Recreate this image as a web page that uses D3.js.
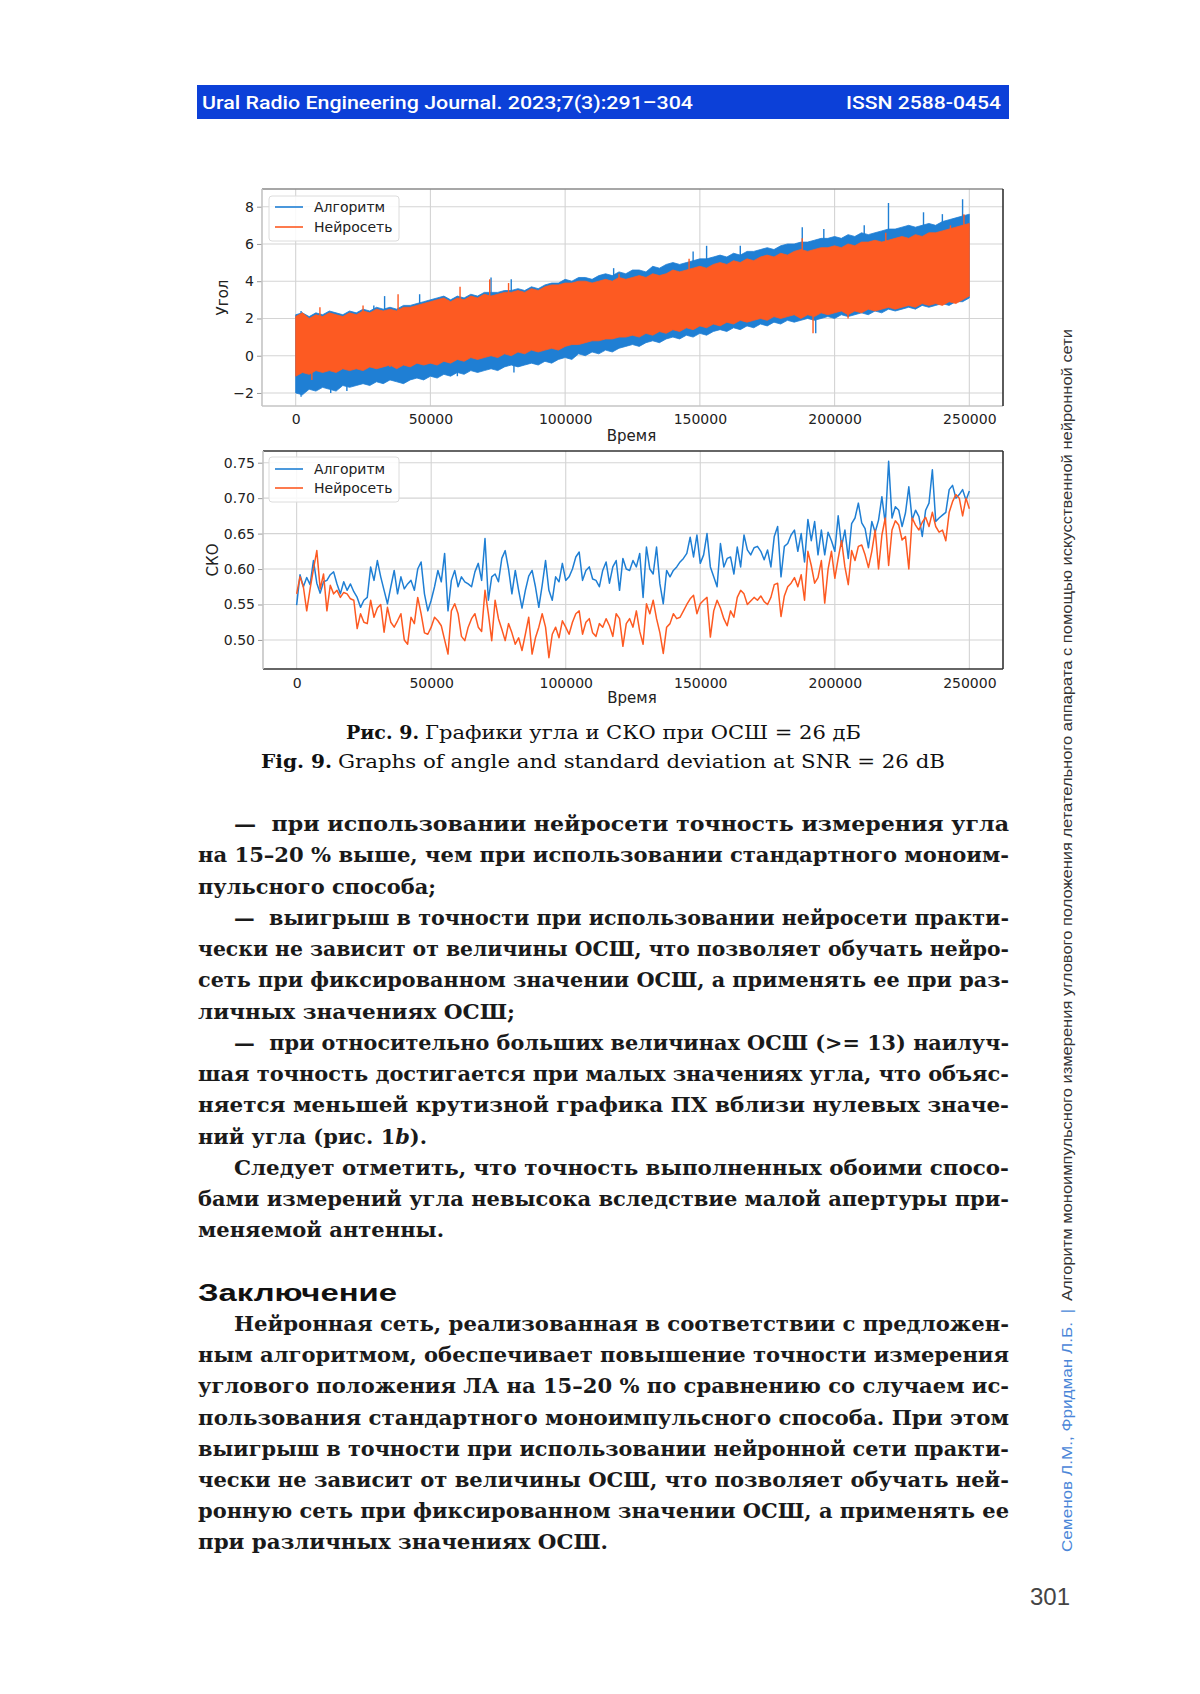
<!DOCTYPE html>
<html><head><meta charset="utf-8">
<script src="https://cdnjs.cloudflare.com/ajax/libs/d3/7.8.5/d3.min.js"></script>
<style>html,body{margin:0;padding:0;background:#fff;} svg{display:block;} text{white-space:pre;}</style>
</head><body><svg id="page" width="1200" height="1694"></svg>
<script>
// ---------------- DATA ----------------
const seriesNames = ["Алгоритм", "Нейросеть"];
const timeTicks = [0, 50000, 100000, 150000, 200000, 250000];
const angleTicks = [-2, 0, 2, 4, 6, 8];
const skoTicks = [0.50, 0.55, 0.60, 0.65, 0.70, 0.75];
const angleStep = 2500;   // sampling of the angle envelopes
const skoStep = 1250;     // sampling of the SKO curves

// Angle chart: envelopes of the dense noisy signals (upper / lower)
const algoUpper = [
 2.2,2.3,2.1,2.3,2.2,2.4,2.3,2.2,2.4,2.3,
 2.5,2.4,2.6,2.5,2.6,2.5,2.7,2.7,2.8,2.9,
 3.0,3.1,3.2,3.0,3.2,3.1,3.3,3.2,3.4,3.4,
 3.4,3.5,3.5,3.6,3.5,3.7,3.6,3.8,3.9,3.9,
 4.1,4.0,4.2,4.2,4.1,4.3,4.4,4.3,4.5,4.4,
 4.6,4.6,4.5,4.8,4.7,4.9,5.0,4.9,5.0,5.1,
 5.2,5.2,5.3,5.4,5.3,5.5,5.4,5.6,5.6,5.7,
 5.8,5.7,5.9,6.0,6.0,6.1,6.1,6.2,6.3,6.3,
 6.4,6.3,6.5,6.4,6.6,6.5,6.6,6.7,6.8,6.8,
 6.9,7.0,6.9,7.0,7.1,7.0,7.2,7.3,7.4,7.5,
 7.6];
const algoLower = [
 -2.0,-2.1,-1.8,-1.9,-1.7,-1.8,-1.9,-1.6,-1.7,-1.6,
 -1.5,-1.6,-1.4,-1.5,-1.3,-1.4,-1.5,-1.3,-1.2,-1.3,
 -1.1,-1.2,-1.0,-1.1,-0.9,-1.0,-0.8,-0.9,-0.8,-0.7,
 -0.8,-0.6,-0.5,-0.6,-0.5,-0.4,-0.5,-0.3,-0.4,-0.2,
 -0.1,-0.2,0.1,0.0,0.2,0.1,0.3,0.2,0.4,0.5,
 0.6,0.5,0.7,0.8,0.7,0.9,1.0,0.9,1.1,1.0,
 1.2,1.1,1.3,1.4,1.3,1.5,1.4,1.6,1.5,1.7,
 1.6,1.8,1.7,1.9,1.8,1.9,2.0,1.9,2.0,2.1,
 2.0,2.2,2.1,2.2,2.3,2.2,2.4,2.3,2.5,2.4,
 2.5,2.6,2.5,2.7,2.6,2.7,2.8,2.7,2.9,2.9,
 3.1];
const neuroUpper = [
 2.1,2.3,2.0,2.2,2.1,2.3,2.2,2.1,2.3,2.2,
 2.4,2.3,2.5,2.4,2.5,2.4,2.6,2.6,2.7,2.8,
 2.9,3.0,3.1,2.9,3.1,3.0,3.2,3.1,3.3,3.2,
 3.3,3.4,3.4,3.5,3.4,3.6,3.5,3.7,3.8,3.8,
 3.9,3.9,4.0,4.0,3.9,4.0,4.1,4.0,4.2,4.1,
 4.2,4.3,4.2,4.4,4.3,4.4,4.6,4.5,4.6,4.7,
 4.8,4.7,4.9,5.0,4.9,5.1,5.0,5.2,5.1,5.3,
 5.4,5.3,5.5,5.4,5.6,5.7,5.6,5.7,5.8,5.8,
 5.9,5.8,6.0,5.9,6.1,6.1,6.2,6.1,6.2,6.3,
 6.4,6.3,6.5,6.4,6.6,6.6,6.7,6.8,6.9,7.0,
 7.1];
const neuroLower = [
 -1.1,-0.9,-1.0,-0.8,-0.9,-0.8,-0.9,-0.7,-0.8,-0.7,
 -0.8,-0.6,-0.7,-0.6,-0.5,-0.7,-0.5,-0.6,-0.4,-0.5,
 -0.4,-0.5,-0.3,-0.4,-0.2,-0.3,-0.1,-0.2,-0.1,0.0,
 -0.1,0.1,0.0,0.2,0.1,0.3,0.2,0.3,0.4,0.3,
 0.5,0.6,0.6,0.7,0.8,0.8,0.9,0.9,1.0,1.0,
 1.1,1.0,1.2,1.1,1.3,1.2,1.4,1.3,1.5,1.4,
 1.6,1.5,1.7,1.6,1.8,1.7,1.9,1.8,1.9,2.0,
 1.9,2.1,2.0,2.1,2.2,2.0,2.2,2.1,2.3,2.2,
 2.3,2.4,2.2,2.4,2.3,2.5,2.4,2.5,2.6,2.5,
 2.6,2.7,2.6,2.8,2.7,2.8,2.7,2.9,2.8,3.0,
 3.2];
// Isolated thin spikes sticking out of the bands
const algoUpSpikeT = [2000, 29000, 33000, 46000, 72500, 80000, 118000, 147500, 152500, 165000, 188000, 196000, 211000, 220000, 233000, 240000, 247500];
const algoUpSpikeV = [2.4, 2.7, 3.2, 3.3, 4.2, 4.1, 4.7, 5.6, 5.9, 5.9, 6.9, 6.8, 7.0, 8.2, 7.7, 7.6, 8.4];
const neuroUpSpikeT = [9000, 25000, 38000, 61000, 72000, 79000, 120000, 146000, 188000, 219000, 243000, 248000];
const neuroUpSpikeV = [2.6, 2.7, 3.3, 3.7, 4.1, 3.9, 4.4, 5.2, 6.3, 6.6, 7.0, 7.6];
const algoLoSpikeT = [2000, 13000, 19000, 60000, 81000, 92500, 113000, 193000];
const algoLoSpikeV = [-2.2, -2.0, -1.9, -1.1, -0.9, -0.3, 0.2, 1.2];
const neuroLoSpikeT = [6000, 35000, 192000, 205000];
const neuroLoSpikeV = [-1.3, -0.6, 1.2, 2.0];

// SKO chart
const algoSko = [
 0.549,0.592,0.575,0.588,0.578,0.612,0.580,0.566,0.582,0.584,
 0.592,0.596,0.579,0.565,0.582,0.570,0.579,0.568,0.560,0.546,
 0.556,0.560,0.603,0.584,0.612,0.589,0.570,0.551,0.575,0.598,
 0.565,0.589,0.572,0.579,0.584,0.570,0.600,0.610,0.565,0.541,
 0.556,0.575,0.598,0.582,0.622,0.541,0.584,0.598,0.575,0.589,
 0.582,0.579,0.575,0.596,0.608,0.584,0.643,0.556,0.589,0.593,
 0.582,0.615,0.626,0.600,0.565,0.598,0.570,0.545,0.570,0.590,
 0.598,0.575,0.546,0.577,0.612,0.570,0.556,0.589,0.582,0.608,
 0.584,0.589,0.600,0.617,0.624,0.584,0.598,0.603,0.586,0.584,
 0.575,0.598,0.610,0.580,0.603,0.612,0.570,0.615,0.600,0.598,
 0.612,0.603,0.622,0.560,0.631,0.600,0.593,0.631,0.579,0.551,
 0.598,0.589,0.598,0.603,0.610,0.615,0.622,0.645,0.617,0.648,
 0.608,0.620,0.650,0.603,0.589,0.575,0.636,0.603,0.615,0.617,
 0.593,0.631,0.603,0.648,0.627,0.620,0.630,0.632,0.625,0.613,
 0.627,0.603,0.646,0.660,0.589,0.632,0.636,0.648,0.655,0.625,
 0.650,0.610,0.670,0.640,0.667,0.620,0.655,0.620,0.652,0.640,
 0.625,0.675,0.632,0.655,0.615,0.664,0.672,0.693,0.665,0.657,
 0.630,0.667,0.652,0.669,0.702,0.664,0.752,0.672,0.688,0.683,
 0.660,0.679,0.716,0.669,0.683,0.674,0.646,0.683,0.693,0.740,
 0.667,0.672,0.676,0.680,0.712,0.718,0.700,0.705,0.712,0.697,
 0.710];
const neuroSko = [
 0.565,0.589,0.575,0.541,0.572,0.600,0.626,0.572,0.593,0.541,
 0.577,0.565,0.570,0.560,0.567,0.565,0.558,0.556,0.516,0.537,
 0.525,0.523,0.556,0.532,0.545,0.550,0.511,0.546,0.525,0.518,
 0.527,0.537,0.500,0.494,0.532,0.523,0.560,0.537,0.510,0.508,
 0.518,0.532,0.527,0.520,0.500,0.480,0.541,0.551,0.537,0.505,
 0.499,0.518,0.530,0.537,0.518,0.512,0.570,0.537,0.499,0.556,
 0.530,0.515,0.499,0.523,0.510,0.494,0.503,0.485,0.508,0.532,
 0.480,0.503,0.518,0.537,0.518,0.475,0.508,0.518,0.503,0.527,
 0.518,0.508,0.525,0.537,0.541,0.508,0.525,0.530,0.510,0.505,
 0.523,0.518,0.530,0.520,0.505,0.537,0.530,0.491,0.523,0.530,
 0.518,0.541,0.512,0.494,0.551,0.537,0.556,0.530,0.510,0.481,
 0.518,0.523,0.537,0.530,0.532,0.541,0.550,0.558,0.563,0.537,
 0.551,0.556,0.560,0.504,0.541,0.556,0.545,0.530,0.520,0.541,
 0.532,0.560,0.570,0.565,0.550,0.555,0.560,0.556,0.562,0.554,
 0.550,0.560,0.578,0.580,0.533,0.562,0.575,0.580,0.588,0.575,
 0.592,0.556,0.625,0.605,0.580,0.588,0.612,0.552,0.600,0.625,
 0.587,0.615,0.640,0.603,0.578,0.626,0.612,0.632,0.634,0.620,
 0.602,0.625,0.655,0.600,0.648,0.672,0.605,0.655,0.668,0.662,
 0.641,0.646,0.600,0.672,0.662,0.655,0.666,0.673,0.660,0.680,
 0.660,0.652,0.655,0.640,0.680,0.695,0.705,0.700,0.675,0.700,
 0.685];

const angleTime = algoUpper.map((_, i) => i * angleStep);
const skoTime = algoSko.map((_, i) => i * skoStep);

// ---------------- STYLE ----------------
const BLUE = "#1f7fd4", ORANGE = "#fd5a22";
const svg = d3.select("#page");

// ---------------- HEADER ----------------
svg.append("rect").attr("x", 197).attr("y", 85).attr("width", 812).attr("height", 34).attr("fill", "#0c40d8");
svg.append("text").attr("x", 202).attr("y", 109).attr("font-family", "Roboto, 'Liberation Sans', sans-serif")
  .attr("font-weight", 500).attr("font-size", 18.5).attr("fill", "#fff")
  .attr("textLength", 491).attr("lengthAdjust", "spacingAndGlyphs")
  .text("Ural Radio Engineering Journal. 2023;7(3):291–304");
svg.append("text").attr("x", 846).attr("y", 109).attr("font-family", "Roboto, 'Liberation Sans', sans-serif")
  .attr("font-weight", 500).attr("font-size", 18.5).attr("fill", "#fff")
  .attr("textLength", 155).attr("lengthAdjust", "spacingAndGlyphs")
  .text("ISSN 2588-0454");

// ---------------- CHART HELPERS ----------------
function frame(box, x, y, yTicks, yFmt, ylabel, ylabelX) {
  const g = svg.append("g");
  const fontFam = "'DejaVu Sans', sans-serif";
  g.append("g").selectAll("line").data(yTicks).join("line")
    .attr("x1", box.l).attr("x2", box.r).attr("y1", d => y(d)).attr("y2", d => y(d))
    .attr("stroke", "#d4d4d4").attr("stroke-width", 1.1);
  g.append("g").selectAll("line").data(timeTicks).join("line")
    .attr("x1", d => x(d)).attr("x2", d => x(d)).attr("y1", box.t).attr("y2", box.b)
    .attr("stroke", "#d4d4d4").attr("stroke-width", 1.1);
  const ay = g.append("g").attr("transform", `translate(${box.l},0)`)
    .call(d3.axisLeft(y).tickValues(yTicks).tickFormat(yFmt).tickSize(5).tickPadding(3));
  ay.select(".domain").remove();
  ay.selectAll("line").attr("stroke", "#999");
  ay.selectAll("text").attr("font-family", fontFam).attr("font-size", 14).attr("fill", "#222");
  const ax = g.append("g").attr("transform", `translate(0,${box.b})`)
    .call(d3.axisBottom(x).tickValues(timeTicks).tickFormat(d3.format("d")).tickSize(0).tickPadding(box.xpad));
  ax.select(".domain").remove();
  ax.selectAll("text").attr("font-family", fontFam).attr("font-size", 14).attr("fill", "#222");
  g.append("text").attr("x", (box.l + box.r) / 2 - 1).attr("y", box.xlabY).attr("text-anchor", "middle")
    .attr("font-family", fontFam).attr("font-size", 15).attr("fill", "#222").text("Время");
  g.append("text").attr("transform", `translate(${ylabelX},${(box.t + box.b) / 2}) rotate(-90)`)
    .attr("text-anchor", "middle").attr("font-family", fontFam).attr("font-size", 15).attr("fill", "#222").text(ylabel);
  return g;
}
function spinesDraw(box, cols) {
  const s = svg.append("g");
  s.append("line").attr("x1", box.l).attr("x2", box.r).attr("y1", box.t).attr("y2", box.t).attr("stroke", cols.top).attr("stroke-width", 1.6);
  s.append("line").attr("x1", box.l).attr("x2", box.r).attr("y1", box.b).attr("y2", box.b).attr("stroke", cols.bottom).attr("stroke-width", 1.6);
  s.append("line").attr("x1", box.l).attr("x2", box.l).attr("y1", box.t).attr("y2", box.b).attr("stroke", cols.left).attr("stroke-width", 1.6);
  s.append("line").attr("x1", box.r).attr("x2", box.r).attr("y1", box.t).attr("y2", box.b).attr("stroke", cols.right).attr("stroke-width", 1.6);
}
function legend(x0, y0, h, rowYs) {
  const g = svg.append("g");
  g.append("rect").attr("x", x0).attr("y", y0).attr("width", 130).attr("height", h).attr("rx", 3)
    .attr("fill", "#fff").attr("fill-opacity", 0.85).attr("stroke", "#dcdcdc");
  const cols = [BLUE, ORANGE];
  seriesNames.forEach((n, i) => {
    g.append("line").attr("x1", x0 + 6).attr("x2", x0 + 34).attr("y1", rowYs[i]).attr("y2", rowYs[i])
      .attr("stroke", cols[i]).attr("stroke-width", 1.6);
    g.append("text").attr("x", x0 + 45).attr("y", rowYs[i] + 5).attr("font-family", "'DejaVu Sans', sans-serif")
      .attr("font-size", 14).attr("fill", "#222").text(n);
  });
}

// ---------------- TOP CHART (angle) ----------------
const box1 = {l: 262, r: 1003, t: 189, b: 406, xpad: 8, xlabY: 441};
const x1 = d3.scaleLinear().domain([-12500, 262500]).range([box1.l, box1.r]);
const y1 = d3.scaleLinear().domain([-2.7, 8.95]).range([box1.b, box1.t]);
frame(box1, x1, y1, angleTicks, d3.format("d"), "Угол", 228);
svg.append("clipPath").attr("id", "c1").append("rect").attr("x", box1.l).attr("y", box1.t).attr("width", box1.r - box1.l).attr("height", box1.b - box1.t);
const band = (up, lo) => d3.area().x((d, i) => x1(angleTime[i])).y0((d, i) => y1(lo[i])).y1((d, i) => y1(up[i]));
const p1 = svg.append("g").attr("clip-path", "url(#c1)");
function spikes(T, V, up, lo, color) {
  p1.append("g").selectAll("line").data(T).join("line")
    .attr("x1", d => x1(d)).attr("x2", d => x1(d))
    .attr("y1", (d, i) => y1(V[i]))
    .attr("y2", d => { const k = Math.round(d / angleStep); return y1((up[k] + lo[k]) / 2); })
    .attr("stroke", color).attr("stroke-width", 1.4);
}
spikes(algoUpSpikeT, algoUpSpikeV, algoUpper, algoLower, BLUE);
spikes(algoLoSpikeT, algoLoSpikeV, algoUpper, algoLower, BLUE);
p1.append("path").attr("d", band(algoUpper, algoLower)(angleTime)).attr("fill", BLUE).attr("stroke", BLUE).attr("stroke-width", 0.8);
spikes(neuroUpSpikeT, neuroUpSpikeV, neuroUpper, neuroLower, ORANGE);
spikes(neuroLoSpikeT, neuroLoSpikeV, neuroUpper, neuroLower, ORANGE);
p1.append("path").attr("d", band(neuroUpper, neuroLower)(angleTime)).attr("fill", ORANGE).attr("stroke", ORANGE).attr("stroke-width", 0.8);
spinesDraw(box1, {top: "#8a8a8a", bottom: "#c4c4c4", left: "#c4c4c4", right: "#333"});
legend(269, 196, 45, [207, 227]);

// ---------------- BOTTOM CHART (SKO) ----------------
const box2 = {l: 263, r: 1003, t: 451, b: 669, xpad: 9, xlabY: 703};
const x2 = d3.scaleLinear().domain([-12500, 262500]).range([box2.l, box2.r]);
const y2 = d3.scaleLinear().domain([0.459, 0.7665]).range([box2.b, box2.t]);
frame(box2, x2, y2, skoTicks, d3.format(".2f"), "СКО", 218);
svg.append("clipPath").attr("id", "c2").append("rect").attr("x", box2.l).attr("y", box2.t).attr("width", box2.r - box2.l).attr("height", box2.b - box2.t);
const p2 = svg.append("g").attr("clip-path", "url(#c2)");
const ln = arr => d3.line().x((d, i) => x2(skoTime[i])).y((d, i) => y2(arr[i]));
p2.append("path").attr("d", ln(algoSko)(skoTime)).attr("fill", "none").attr("stroke", BLUE).attr("stroke-width", 1.5).attr("stroke-linejoin", "round");
p2.append("path").attr("d", ln(neuroSko)(skoTime)).attr("fill", "none").attr("stroke", ORANGE).attr("stroke-width", 1.5).attr("stroke-linejoin", "round");
spinesDraw(box2, {top: "#333", bottom: "#333", left: "#c4c4c4", right: "#333"});
legend(269, 457, 45, [469, 488]);

// ---------------- CAPTION ----------------
const serif = "'DejaVu Serif', serif";
function cap(x, y, w, txt, bold) {
  svg.append("text").attr("x", x).attr("y", y).attr("font-family", serif).attr("font-size", 18.5)
    .attr("font-weight", bold ? 700 : 400).attr("fill", "#111")
    .attr("textLength", w).attr("lengthAdjust", "spacingAndGlyphs").text(txt);
}
cap(346, 739, 73, "Рис. 9.", true);
cap(425, 739, 436, "Графики угла и СКО при ОСШ = 26 дБ", false);
cap(261, 768, 71, "Fig. 9.", true);
cap(338, 768, 607, "Graphs of angle and standard deviation at SNR = 26 dB", false);

// ---------------- BODY TEXT ----------------
const L = 198, R = 1009, IND = 234;
const part1 = [
  ["—  при использовании нейросети точность измерения угла", IND, R],
  ["на 15–20 % выше, чем при использовании стандартного моноим-", L, R],
  ["пульсного способа;", L, 436],
  ["—  выигрыш в точности при использовании нейросети практи-", IND, R],
  ["чески не зависит от величины ОСШ, что позволяет обучать нейро-", L, R],
  ["сеть при фиксированном значении ОСШ, а применять ее при раз-", L, R],
  ["личных значениях ОСШ;", L, 515],
  ["—  при относительно больших величинах ОСШ (>= 13) наилуч-", IND, R],
  ["шая точность достигается при малых значениях угла, что объяс-", L, R],
  ["няется меньшей крутизной графика ПХ вблизи нулевых значе-", L, R],
  [null, L, 427],
  ["Следует отметить, что точность выполненных обоими спосо-", IND, R],
  ["бами измерений угла невысока вследствие малой апертуры при-", L, R],
  ["меняемой антенны.", L, 444]
];
const part2 = [
  ["Нейронная сеть, реализованная в соответствии с предложен-", IND, R],
  ["ным алгоритмом, обеспечивает повышение точности измерения", L, R],
  ["углового положения ЛА на 15–20 % по сравнению со случаем ис-", L, R],
  ["пользования стандартного моноимпульсного способа. При этом", L, R],
  ["выигрыш в точности при использовании нейронной сети практи-", L, R],
  ["чески не зависит от величины ОСШ, что позволяет обучать ней-", L, R],
  ["ронную сеть при фиксированном значении ОСШ, а применять ее", L, R],
  ["при различных значениях ОСШ.", L, 608]
];
function bodyLine(y, d) {
  const t = svg.append("text").attr("x", d[1]).attr("y", y).attr("font-family", serif).attr("font-size", 19.5)
    .attr("font-weight", 700).attr("fill", "#1a1a1a")
    .attr("textLength", d[2] - d[1]).attr("lengthAdjust", "spacingAndGlyphs");
  if (d[0] === null) {
    t.append("tspan").text("ний угла (рис. 1");
    t.append("tspan").attr("font-style", "italic").text("b");
    t.append("tspan").text(").");
  } else t.text(d[0]);
}
part1.forEach((d, i) => bodyLine(831 + i * 31.25, d));
svg.append("text").attr("x", 198).attr("y", 1301).attr("font-family", "'Liberation Sans', Arial, sans-serif")
  .attr("font-weight", 700).attr("font-size", 23).attr("fill", "#111")
  .attr("textLength", 199).attr("lengthAdjust", "spacingAndGlyphs").text("Заключение");
part2.forEach((d, i) => bodyLine(1331 + i * 31.17, d));

// ---------------- SIDE TEXT ----------------
const side = svg.append("g").attr("transform", "translate(1072,1552) rotate(-90)");
side.append("text").attr("x", 0).attr("y", 0).attr("font-family", "'Liberation Sans', Arial, sans-serif").attr("font-size", 15)
  .attr("fill", "#4a86d8").attr("textLength", 230).attr("lengthAdjust", "spacingAndGlyphs").text("Семенов Л.М., Фридман Л.Б.");
side.append("text").attr("x", 239).attr("y", 0).attr("font-family", "'Liberation Sans', Arial, sans-serif").attr("font-size", 15)
  .attr("fill", "#4a86d8").text("|");
side.append("text").attr("x", 251).attr("y", 0).attr("font-family", "'Liberation Sans', Arial, sans-serif").attr("font-size", 15)
  .attr("fill", "#333").attr("textLength", 972).attr("lengthAdjust", "spacingAndGlyphs")
  .text("Алгоритм моноимпульсного измерения углового положения летательного аппарата с помощью искусственной нейронной сети");

// ---------------- PAGE NUMBER ----------------
svg.append("text").attr("x", 1050).attr("y", 1605).attr("text-anchor", "middle")
  .attr("font-family", "'Liberation Sans', Arial, sans-serif").attr("font-size", 24).attr("fill", "#444").text("301");
</script></body></html>
